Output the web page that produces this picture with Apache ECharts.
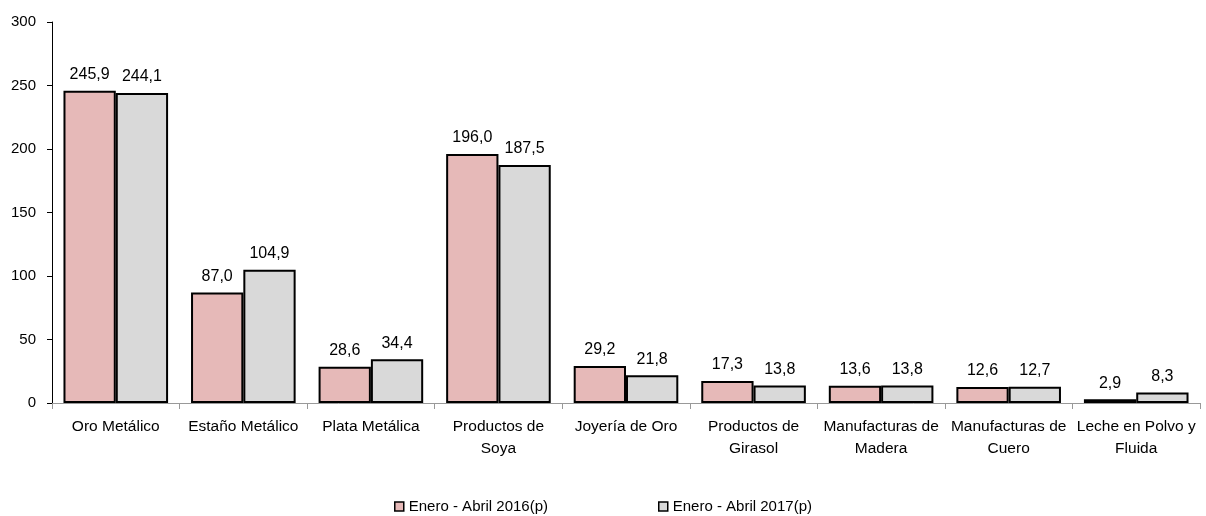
<!DOCTYPE html>
<html>
<head>
<meta charset="utf-8">
<script src="https://cdn.jsdelivr.net/npm/echarts@6/dist/echarts.min.js"></script>
<style>
html,body{margin:0;padding:0;background:#fff;}
#chart{width:1206px;height:516px;}
</style>
</head>
<body>
<div id="chart"></div>
<script>
var categories = ['Oro Metálico', 'Estaño Metálico', 'Plata Metálica', 'Productos de\nSoya', 'Joyería de Oro',
	'Productos de\nGirasol', 'Manufacturas de\nMadera', 'Manufacturas de\nCuero', 'Leche en Polvo y\nFluida'];
var serie2016 = [245.9, 87.0, 28.6, 196.0, 29.2, 17.3, 13.6, 12.6, 2.9];
var serie2017 = [244.1, 104.9, 34.4, 187.5, 21.8, 13.8, 13.8, 12.7, 8.3];
var names = ['Enero - Abril 2016(p)', 'Enero - Abril 2017(p)'];

var font = '"Liberation Sans", Arial, sans-serif';

function fmt(p) {
	return p.value.toFixed(1).replace('.', ',');
}

var myChart = echarts.init(document.getElementById('chart'));
var option = {
	animation: false,
	textStyle: { fontFamily: font },
	grid: { left: 52, right: 6, top: 22, bottom: 113 },
	legend: {
		top: 499,
		left: 'center',
		padding: 0,
		itemGap: 110,
		itemWidth: 9,
		itemHeight: 9,
		icon: 'rect',
		itemStyle: { borderColor: '#000', borderWidth: 1.5 },
		textStyle: { fontFamily: font, fontSize: 15, color: '#000' },
		data: names
	},
	xAxis: {
		type: 'category',
		data: categories,
		axisLine: { lineStyle: { color: '#999', width: 1 } },
		axisTick: { show: true, length: 6, lineStyle: { color: '#999' } },
		axisLabel: { color: '#000', fontSize: 15.5, fontFamily: font, interval: 0, lineHeight: 22, margin: 13 }
	},
	yAxis: {
		type: 'value',
		min: 0,
		max: 300,
		interval: 50,
		axisLine: { show: true, lineStyle: { color: '#000', width: 1 } },
		axisTick: { show: true, length: 5, lineStyle: { color: '#000' } },
		axisLabel: { color: '#000', fontSize: 15, fontFamily: font, margin: 16 },
		splitLine: { show: false }
	},
	series: [
		{
			name: names[0],
			type: 'bar',
			data: serie2016,
			barGap: '0%',
			barCategoryGap: '18%',
			itemStyle: { color: '#e6b9b8', borderColor: '#000', borderWidth: 2 },
			label: { show: true, position: 'top', distance: 8, formatter: fmt, color: '#000', fontSize: 16, fontFamily: font }
		},
		{
			name: names[1],
			type: 'bar',
			data: serie2017,
			itemStyle: { color: '#d9d9d9', borderColor: '#000', borderWidth: 2 },
			label: { show: true, position: 'top', distance: 8, formatter: fmt, color: '#000', fontSize: 16, fontFamily: font }
		}
	]
};
myChart.setOption(option);
</script>
</body>
</html>
